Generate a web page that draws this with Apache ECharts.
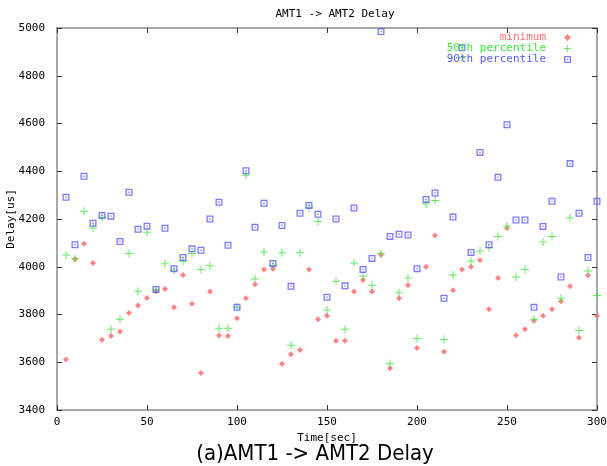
<!DOCTYPE html>
<html>
<head>
<meta charset="utf-8">
<script src="https://cdn.jsdelivr.net/npm/echarts@6/dist/echarts.min.js"></script>
<style>
  html, body { margin: 0; padding: 0; background: #fff; }
  #delay_chart { width: 607px; height: 466px; }
</style>
</head>
<body>
<div id="delay_chart"></div>
<script>
// time axis, one sample every 5 sec
const times = [5,10,15,20,25,30,35,40,45,50,55,60,65,70,75,80,85,90,95,100,
  105,110,115,120,125,130,135,140,145,150,155,160,165,170,175,180,185,190,195,200,
  205,210,215,220,225,230,235,240,245,250,255,260,265,270,275,280,285,290,295,300];

const minimum = [3612,4031,4096,4016,3694,3710,3729,3806,3838,3869,3896,3907,3830,3965,3845,3555,3896,3712,3710,3784,
  3868,3926,3988,3992,3594,3633,3651,3988,3780,3795,3690,3690,3896,3944,3896,4050,3575,3868,3922,3660,
  4000,4131,3644,3902,3988,4000,4027,3822,3953,4161,3713,3738,3774,3795,3822,3856,3918,3703,3964,3795];

const p50 = [4049,4035,4232,4162,4207,3738,3780,4055,3897,4144,3904,4013,3985,4023,4055,3988,4004,3742,3742,3830,
  4383,3949,4062,4006,4059,3671,4059,4247,4190,3819,3939,3738,4016,3961,3922,4056,3594,3891,3953,3699,
  4263,4278,3695,3965,4876,4023,4066,4080,4127,4171,3957,3989,3780,4104,4127,3868,4204,3733,3982,3880];

const p90 = [4291,4092,4379,4182,4215,4212,4106,4312,4157,4170,3905,4161,3992,4039,4075,4069,4200,4270,4090,3830,
  4402,4165,4266,4014,4173,3918,4224,4257,4220,3872,4200,3920,4246,3989,4035,4985,4127,4136,4133,3992,
  4282,4309,3868,4208,4917,4060,4479,4092,4375,4595,4196,4196,3830,4169,4274,3957,4432,4224,4039,4274];

const seriesNames = ['minimum', '50th percentile', '90th percentile'];
const xTicks = {min: 0, max: 300, interval: 50};
const yTicks = {min: 3400, max: 5000, interval: 200};

const mono = "'DejaVu Sans Mono', 'Liberation Mono', monospace";
const plusPath = 'path://M3.5,0h1v3.5h3.5v1h-3.5v3.5h-1v-3.5h-3.5v-1h3.5z';
const boxPath = 'path://M0,0h8v8h-8z M1.5,1.5v5h5v-5z M3.2,3.2h1.6v1.6h-1.6z';

function pairs(ys) {
  return times.map((t, i) => [t, ys[i]]);
}

let myChart = echarts.init(document.getElementById('delay_chart'));

const frameAxis = {
  axisLine: {show: true, onZero: false, lineStyle: {color: '#8c8c8c', width: 1.5}},
  axisTick: {show: true, inside: true, length: 5, lineStyle: {color: '#333'}},
  splitLine: {show: false}
};

myChart.setOption({
  animation: false,
  title: [{
    text: 'AMT1 -> AMT2 Delay',
    left: 330, top: 4, textAlign: 'center',
    textStyle: {fontFamily: mono, fontSize: 11, fontWeight: 'normal', color: '#000'}
  }, {
    text: '(a)AMT1 -> AMT2 Delay',
    left: 310, top: 438, textAlign: 'center',
    textStyle: {fontFamily: "'DejaVu Sans Condensed', 'Liberation Sans Narrow', sans-serif",
      fontSize: 22, fontWeight: 'normal', color: '#000'}
  }],
  legend: {
    data: seriesNames,
    orient: 'vertical',
    align: 'right',
    right: 36, top: 32,
    padding: 0,
    itemGap: 0,
    itemWidth: 7, itemHeight: 7,
    textStyle: {fontFamily: mono, fontSize: 11, lineHeight: 10, padding: [0, 13, 0, 0], color: 'inherit'}
  },
  grid: {left: 57, right: 10, top: 28, bottom: 56, containLabel: false, outerBoundsMode: 'none'},
  xAxis: [
    Object.assign({
      type: 'value', position: 'bottom',
      min: xTicks.min, max: xTicks.max, interval: xTicks.interval,
      name: 'Time[sec]', nameLocation: 'middle', nameGap: 23, nameMoveOverlap: false,
      nameTextStyle: {fontFamily: mono, fontSize: 11, color: '#000'},
      axisLabel: {margin: 7, fontFamily: mono, fontSize: 11, color: '#000'}
    }, frameAxis),
    Object.assign({
      type: 'value', position: 'top',
      min: xTicks.min, max: xTicks.max, interval: xTicks.interval,
      axisLabel: {show: false}
    }, frameAxis)
  ],
  yAxis: [
    Object.assign({
      type: 'value', position: 'left',
      min: yTicks.min, max: yTicks.max, interval: yTicks.interval,
      name: 'Delay[us]', nameLocation: 'middle', nameGap: 40, nameRotate: 90, nameMoveOverlap: false,
      nameTextStyle: {fontFamily: mono, fontSize: 11, color: '#000'},
      axisLabel: {margin: 12, fontFamily: mono, fontSize: 11, color: '#000',
        formatter: (v) => String(v)}
    }, frameAxis),
    Object.assign({
      type: 'value', position: 'right',
      min: yTicks.min, max: yTicks.max, interval: yTicks.interval,
      axisLabel: {show: false}
    }, frameAxis)
  ],
  series: [
    {
      name: seriesNames[0], type: 'scatter', clip: false,
      symbol: 'diamond', symbolSize: 6,
      itemStyle: {color: '#ff7070', opacity: 0.85},
      data: pairs(minimum)
    },
    {
      name: seriesNames[1], type: 'scatter', clip: false,
      symbol: plusPath, symbolSize: 8,
      itemStyle: {color: '#3ce63c'},
      data: pairs(p50)
    },
    {
      name: seriesNames[2], type: 'scatter', clip: false,
      symbol: boxPath, symbolSize: 7,
      itemStyle: {color: '#5a5aff'},
      data: pairs(p90)
    }
  ]
});
</script>
</body>
</html>
